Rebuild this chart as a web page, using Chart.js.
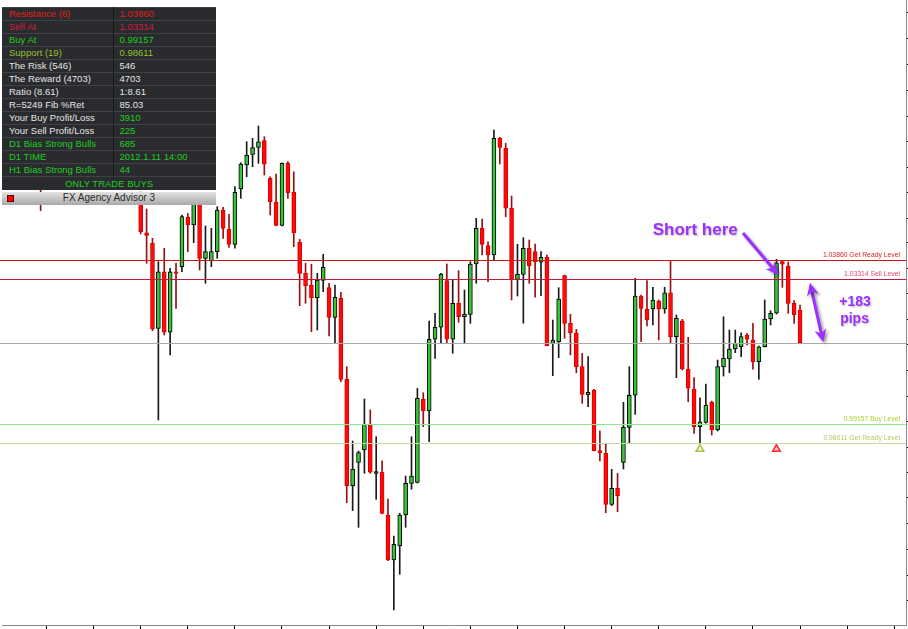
<!DOCTYPE html>
<html>
<head>
<meta charset="utf-8">
<title>FX Agency Advisor 3</title>
<script src="https://cdn.jsdelivr.net/npm/chart.js@4.4.0/dist/chart.umd.min.js"></script>
<style>
    html, body { margin: 0; padding: 0; background: #fff; overflow: hidden; }
    #wrap { position: relative; width: 908px; height: 629px; }
    #chart { position: absolute; left: 0; top: 0; }
    #panel { position: absolute; left: 2px; top: 7px; width: 214px; font: 9.5px "Liberation Sans", Arial, sans-serif; }
    #panel table { border-collapse: collapse; table-layout: fixed; width: 214px; background: #2a2b2f; }
    #panel td { height: 12px; line-height: 12px; padding: 0; border-top: 1px solid #404145; color: #e4e4e4; white-space: nowrap; overflow: hidden; }
    #panel td.k { padding-left: 7px; border-right: 1px solid #19191b; }
    #panel td.v { padding-left: 6px; }
    #panel td.all { text-align: center; height: 13px; line-height: 13px; }
    .red { color: #e01c1c !important; }
    .crimson { color: #d21a40 !important; }
    .lime { color: #20cc20 !important; }
    .olive { color: #98c02c !important; }
    #bar { margin-top: 2px; height: 13px; line-height: 13px; background: linear-gradient(#e2e2e2, #a9a9a9); text-align: center;
           font: 10px "Liberation Sans", Arial, sans-serif; color: #2a2a2a; position: relative; }
    #bar span { position: absolute; left: 5px; top: 3px; width: 5px; height: 5px; background: #f00; border: 1px solid #500; }
</style>
</head>
<body>
<div id="wrap">
    <canvas id="chart" width="908" height="629"></canvas>
    <div id="panel"><table id="tbl"><colgroup><col style="width:111px"><col style="width:103px"></colgroup></table><div id="bar"><span></span>FX Agency Advisor 3</div></div>
</div>
<script>
// bar slots on the time axis, first one is slot 6 (most of the early bars sit behind the panel)
var firstSlot = 6;

// OHLC (null = bar hidden behind the panel)
var opens = [1.05709, null, null, null, null, null, null, null, null, null, null, null, null, null, null, null, null,
    1.05709, 1.04631, 1.04329, 1.01900, 1.03517, 1.01786, 1.03517, 1.03660, 1.05071, 1.04851,
    1.05594, 1.03900, 1.03831, 1.04089, 1.05280, 1.04729, 1.04300, 1.05880, 1.06566, 1.06871,
    1.07071, 1.07260, 1.06186, 1.05500, 1.04843, 1.06614, 1.05786, 1.04357, 1.03471, 1.03137,
    1.02774, 1.03271, 1.03060, 1.02214, 1.02757, 1.00443, 0.97403, 0.98071, 0.98423, 0.99157,
    0.97757, 0.97786, 0.96566, 0.95280, 0.95680, 0.96566, 0.97471, 0.97500, 0.99871, 0.99537,
    1.01586, 1.01929, 1.03260, 1.01586, 1.02614, 1.02231, 1.02300, 1.03737, 1.04757, 1.04260,
    1.03994, 1.07329, 1.07043, 1.05329, 1.03300, 1.03443, 1.04186, 1.04089, 1.03786, 1.03929,
    1.01471, 1.01517, 1.03403, 1.02043, 1.01774, 1.00803, 0.99994, 1.00137, 0.98403, 0.98329,
    0.96871, 0.97329, 0.98071, 0.99071, 0.99986, 1.02823, 1.02443, 1.02451, 1.02680, 1.02451,
    1.02917, 1.01660, 1.02117, 1.00737, 1.00166, 0.99089, 0.99214, 0.99786, 0.98994, 1.00803,
    1.01023, 1.01309, 1.01374, 1.01700, 1.01566, 1.00946, 1.01374, 1.02166, 1.02329, 1.03803,
    1.03680, 1.02614, 1.02423];
var highs = [1.05851, null, null, null, null, null, null, null, null, null, null, null, null, null, null, null, null,
    1.05794, 1.05309, 1.04471, 1.03803, 1.04186, 1.03614, 1.03757, 1.05137, 1.05186, 1.05680,
    1.05680, 1.04823, 1.04757, 1.05374, 1.05357, 1.05157, 1.05946, 1.06631, 1.07231, 1.07329,
    1.07680, 1.07374, 1.06231, 1.06309, 1.06631, 1.06660, 1.06374, 1.04443, 1.03757, 1.03729,
    1.03471, 1.04014, 1.03186, 1.03137, 1.02929, 1.00803, 0.98680, 0.98394, 0.99880, 0.99566,
    0.98803, 0.98117, 0.97023, 0.95966, 0.96614, 0.97680, 0.98803, 1.00186, 1.00060, 1.02109,
    1.02329, 1.03471, 1.03737, 1.03280, 1.03546, 1.02994, 1.03803, 1.05043, 1.05023, 1.04374,
    1.07566, 1.07357, 1.07186, 1.05680, 1.04300, 1.04489, 1.04423, 1.04309, 1.04089, 1.03994,
    1.02137, 1.03060, 1.03423, 1.02300, 1.01871, 1.01186, 1.01089, 1.00157, 0.98974, 0.98594,
    0.97871, 0.97757, 0.99786, 1.00803, 1.03329, 1.02851, 1.03260, 1.03071, 1.02709, 1.03071,
    1.03823, 1.02280, 1.02157, 1.01643, 1.00489, 0.99917, 1.00309, 0.99823, 1.00994, 1.02231,
    1.01851, 1.01851, 1.01774, 1.01757, 1.02043, 1.01394, 1.02709, 1.02403, 1.03871, 1.03823,
    1.03794, 1.02689, 1.02566];
var lows = [1.05260, null, null, null, null, null, null, null, null, null, null, null, null, null, null, null, null,
    1.04594, 1.03757, 1.01831, 0.99280, 1.01709, 1.01137, 1.02471, 1.03517, 1.04089, 1.04346,
    1.03566, 1.03186, 1.03660, 1.03900, 1.04471, 1.04214, 1.04186, 1.05614, 1.06231, 1.06517,
    1.06614, 1.06280, 1.05137, 1.04823, 1.04823, 1.05614, 1.04231, 1.02546, 1.02614, 1.01803,
    1.01851, 1.02946, 1.01680, 1.01471, 1.00374, 0.96917, 0.96689, 0.96214, 0.97757, 0.97757,
    0.97014, 0.96594, 0.95260, 0.93851, 0.94871, 0.96214, 0.97300, 0.97480, 0.99089, 0.98660,
    1.01043, 1.01471, 1.01471, 1.01186, 1.02071, 1.01489, 1.02043, 1.03186, 1.03994, 1.03231,
    1.03851, 1.06594, 1.05089, 1.02709, 1.02823, 1.02043, 1.03186, 1.02786, 1.02831, 1.01394,
    1.00546, 1.01060, 1.01614, 1.01137, 1.00631, 0.99757, 0.99660, 0.98394, 0.98109, 0.96631,
    0.96831, 0.96660, 0.97880, 0.98614, 0.99443, 1.01517, 1.01966, 1.01994, 1.01566, 1.02329,
    1.01489, 1.00489, 1.00709, 0.99803, 0.98900, 0.98614, 0.99186, 0.98851, 0.98966, 1.00537,
    1.00631, 1.01203, 1.01089, 1.01423, 1.00729, 1.00443, 1.01366, 1.01994, 1.02309, 1.03071,
    1.02329, 1.02043, 1.01480];
var closes = [1.05566, null, null, null, null, null, null, null, null, null, null, null, null, null, null, null, null,
    1.04660, 1.04557, 1.01880, 1.03517, 1.01786, 1.03517, 1.03471, 1.05089, 1.04851, 1.05623,
    1.03900, 1.04089, 1.04089, 1.05280, 1.04757, 1.04300, 1.05786, 1.06594, 1.06843, 1.07060,
    1.07231, 1.06586, 1.05517, 1.04843, 1.06614, 1.05774, 1.04631, 1.03471, 1.03117, 1.02774,
    1.03280, 1.03643, 1.02214, 1.02786, 1.00443, 0.97403, 0.97880, 0.98346, 0.99157, 0.97786,
    0.97803, 0.96614, 0.95280, 0.95729, 0.96566, 0.97471, 0.97680, 0.99900, 0.99537, 1.01586,
    1.01929, 1.03451, 1.01586, 1.02614, 1.02231, 1.02309, 1.03737, 1.04757, 1.04300, 1.03994,
    1.07329, 1.07071, 1.05329, 1.03300, 1.03443, 1.04186, 1.03689, 1.03803, 1.03929, 1.01403,
    1.01566, 1.02737, 1.02043, 1.01774, 1.00803, 1.00014, 1.00071, 0.98403, 0.98346, 0.96871,
    0.97329, 0.97117, 0.99071, 0.99986, 1.02823, 1.02471, 1.02137, 1.02709, 1.02451, 1.02917,
    1.01660, 1.02186, 1.00737, 1.00186, 0.99089, 0.99231, 0.99709, 0.98994, 1.00803, 1.01043,
    1.01309, 1.01471, 1.01660, 1.01586, 1.00946, 1.01374, 1.02166, 1.02329, 1.03774, 1.03729,
    1.02614, 1.02289, 1.01489];

// horizontal levels drawn by the advisor
var levelPrices = [1.03860, 1.03314, 0.99157, 0.98611];
var levelNames = ["Get Ready Level", "Sell Level", "Buy Level", "Get Ready Level"];
var bidPrice = 1.01489;

// signal arrows under the bars
var signalSlots = [118, 131];
var signalPrices = [0.98451, 0.98451];

// axis ticks (labels are cut off at the bottom / right of the window)
var timeTicks = [7, 15, 23, 31, 39, 47, 55, 63, 71, 79, 87, 95, 103, 111, 119, 127, 135, 143, 151];
var priceTicks = [1.10920, 1.10177, 1.09449, 1.08706, 1.07963, 1.07231, 1.06503, 1.05771, 1.05040, 1.04360,
    1.03617, 1.02897, 1.02154, 1.01426, 1.00694, 0.99963, 0.99246, 0.98503, 0.97771, 0.97054,
    0.96311, 0.95580, 0.94851, 0.94131];

// info panel
var panelLabels = ["Resistance (6)", "Sell At", "Buy At", "Support (19)", "The Risk (546)", "The Reward (4703)",
    "Ratio (8.61)", "R=5249 Fib %Ret", "Your Buy Profit/Loss", "Your Sell Profit/Loss",
    "D1 Bias Strong Bulls", "D1 TIME", "H1 Bias Strong Bulls"];
var panelValues = ["1.03860", "1.03314", "0.99157", "0.98611", "546", "4703", "1:8.61", "85.03",
    "3910", "225", "685", "2012.1.11 14:00", "44"];
var panelFooter = "ONLY TRADE BUYS";

// row colours (label, value)
var labelTone = ["red", "crimson", "lime", "olive", "", "", "", "", "", "", "lime", "lime", "lime"];
var valueTone = ["red", "crimson", "lime", "olive", "", "", "", "", "lime", "lime", "lime", "lime", "lime"];
var levelLine = ["#d01414", "#c8183a", "#86ee86", "#c6dc9a"];
var levelText = ["#e02424", "#e0486a", "#a6d424", "#b2cc66"];

var purple = "#9b30ff";


window.addEventListener("load", function () {
    buildPanel();

    var bodies = [], wicks = [], bodyFill = [], bodyEdge = [], wickColor = [];
    for (var i = 0; i < opens.length; i++) {
        if (opens[i] === null) continue;
        var slot = firstSlot + i;
        var up = closes[i] >= opens[i];
        bodies.push({ x: slot, y: [opens[i], closes[i]] });
        wicks.push({ x: slot, y: [lows[i], highs[i]] });
        bodyFill.push(up ? "#36c536" : "#ff0a0a");
        bodyEdge.push(up ? "#000000" : "#d80000");
        wickColor.push(up ? "#1a1a1a" : "#9a1010");
    }

    var marks = [];
    for (var j = 0; j < signalSlots.length; j++) {
        marks.push({ x: signalSlots[j], y: signalPrices[j] });
    }

    var ctx = document.getElementById("chart").getContext("2d");
    new Chart(ctx, {
        type: "bar",
        data: {
            datasets: [{
                data: wicks,
                backgroundColor: wickColor,
                borderWidth: 0,
                barThickness: 1,
                grouped: false,
                order: 3
            }, {
                data: bodies,
                backgroundColor: bodyFill,
                borderColor: bodyEdge,
                borderWidth: 1,
                borderSkipped: false,
                barThickness: 4,
                minBarLength: 1,
                grouped: false,
                order: 2
            }, {
                type: "scatter",
                data: marks,
                pointStyle: "triangle",
                pointRadius: 4.5,
                backgroundColor: ["#eef6c8", "#ffc4c4"],
                borderColor: ["#a4c44a", "#ff2a2a"],
                borderWidth: 1.5,
                order: 1
            }]
        },
        options: {
            responsive: false,
            animation: false,
            devicePixelRatio: 1,
            layout: { autoPadding: false, padding: { left: 2, right: 0, top: 0, bottom: 0 } },
            plugins: { legend: { display: false }, tooltip: { enabled: false } },
            scales: {
                x: {
                    type: "linear",
                    position: "bottom",
                    min: -0.562,
                    max: 153.0,
                    offset: false,
                    ticks: { display: false },
                    grid: { offset: false, drawOnChartArea: false, drawTicks: true, tickLength: 4, color: "#000" },
                    border: { color: "#888", width: 1 },
                    afterBuildTicks: function (s) { s.ticks = timeTicks.map(function (v) { return { value: v }; }); }
                },
                y: {
                    type: "linear",
                    position: "right",
                    min: 0.93423,
                    max: 1.11280,
                    ticks: { display: false },
                    grid: { offset: false, drawOnChartArea: false, drawTicks: true, tickLength: 2, color: "#000" },
                    border: { color: "#888", width: 1 },
                    afterBuildTicks: function (s) { s.ticks = priceTicks.map(function (v) { return { value: v }; }); }
                }
            }
        },
        plugins: [overlay]
    });
});


function buildPanel() {
    var tbl = document.getElementById("tbl");
    for (var i = 0; i < panelLabels.length; i++) {
        var tr = document.createElement("tr");
        tr.innerHTML = '<td class="k ' + labelTone[i] + '">' + panelLabels[i] + '</td><td class="v ' + valueTone[i] + '">' + panelValues[i] + '</td>';
        tbl.appendChild(tr);
    }
    var last = document.createElement("tr");
    last.innerHTML = '<td class="all lime" colspan="2">' + panelFooter + '</td>';
    tbl.appendChild(last);
}


// level lines, their captions and the hand-drawn notes
var overlay = {
    id: "overlay",
    afterDatasetsDraw: function (chart) {
        var ctx = chart.ctx, a = chart.chartArea, x = chart.scales.x, y = chart.scales.y;
        ctx.save();
        ctx.lineWidth = 1;

        var by = Math.round(y.getPixelForValue(bidPrice)) + 0.5;
        ctx.strokeStyle = "#a9a9a9";
        ctx.beginPath(); ctx.moveTo(0, by); ctx.lineTo(a.right, by); ctx.stroke();

        ctx.font = '6.8px "Liberation Sans", Arial, sans-serif';
        ctx.textAlign = "right";
        ctx.textBaseline = "bottom";
        for (var i = 0; i < levelPrices.length; i++) {
            var py = Math.round(y.getPixelForValue(levelPrices[i])) + 0.5;
            ctx.strokeStyle = levelLine[i];
            ctx.beginPath(); ctx.moveTo(0, py); ctx.lineTo(a.right, py); ctx.stroke();
            ctx.fillStyle = levelText[i];
            ctx.fillText(levelPrices[i].toFixed(5) + " " + levelNames[i], a.right - 6, py - 1.5);
        }

        // notes
        ctx.fillStyle = purple;
        ctx.strokeStyle = purple;
        ctx.shadowColor = "rgba(0,0,0,0.28)";
        ctx.shadowBlur = 2;
        ctx.shadowOffsetX = 1;
        ctx.shadowOffsetY = 1;
        ctx.font = 'bold 17px "Liberation Sans", Arial, sans-serif';
        ctx.textAlign = "left";
        ctx.textBaseline = "middle";
        ctx.fillText("Short here", x.getPixelForValue(109.97), y.getPixelForValue(1.04689));

        ctx.font = 'bold 14px "Liberation Sans", Arial, sans-serif';
        ctx.textAlign = "center";
        ctx.fillText("+183", x.getPixelForValue(144.34), y.getPixelForValue(1.02660));
        ctx.fillText("pips", x.getPixelForValue(144.26), y.getPixelForValue(1.02157));

        ctx.shadowColor = "rgba(0,0,0,0.4)";
        ctx.shadowBlur = 3;
        ctx.shadowOffsetX = 2;
        ctx.shadowOffsetY = 2;
        ctx.lineWidth = 3;
        arrow(ctx, x.getPixelForValue(125.31), y.getPixelForValue(1.04623), x.getPixelForValue(131.34), y.getPixelForValue(1.03423), false);
        arrow(ctx, x.getPixelForValue(136.69), y.getPixelForValue(1.03203), x.getPixelForValue(138.95), y.getPixelForValue(1.01500), true);
        ctx.restore();
    }
};


function arrow(ctx, x1, y1, x2, y2, both) {
    var ang = Math.atan2(y2 - y1, x2 - x1);
    var len = 13, wid = 6;
    var sx = both ? x1 + Math.cos(ang) * len * 0.7 : x1, sy = both ? y1 + Math.sin(ang) * len * 0.7 : y1;
    ctx.beginPath();
    ctx.moveTo(sx, sy);
    ctx.lineTo(x2 - Math.cos(ang) * len * 0.7, y2 - Math.sin(ang) * len * 0.7);
    ctx.stroke();
    head(ctx, x2, y2, ang, len, wid);
    if (both) head(ctx, x1, y1, ang + Math.PI, len, wid);
}

function head(ctx, tx, ty, ang, len, wid) {
    var c = Math.cos(ang), s = Math.sin(ang);
    ctx.beginPath();
    ctx.moveTo(tx, ty);
    ctx.lineTo(tx - len * c + wid * s, ty - len * s - wid * c);
    ctx.lineTo(tx - len * 0.7 * c, ty - len * 0.7 * s);
    ctx.lineTo(tx - len * c - wid * s, ty - len * s + wid * c);
    ctx.closePath();
    ctx.fill();
}
</script>
</body>
</html>
